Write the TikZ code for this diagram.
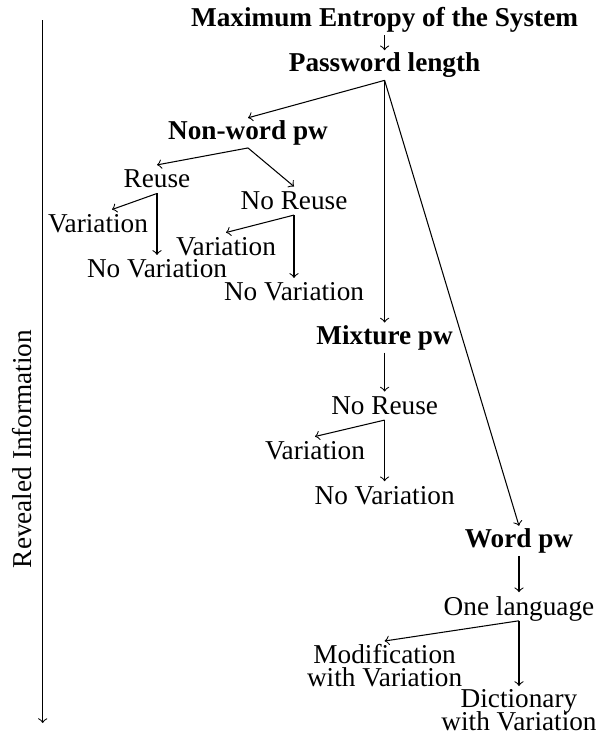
\documentclass[tikz,border=0pt]{standalone}
\usepackage{fontspec}
\setmainfont{Liberation Serif}
\usetikzlibrary{calc}
\begin{document}
\begin{tikzpicture}[x=0.3817pt, y=-0.3817pt, >=to,
  every node/.style={font=\fontsize{10.4pt}{12.5pt}\selectfont},
  bn/.style={font=\fontsize{10.4pt}{12.5pt}\selectfont\bfseries, anchor=base, inner sep=1pt, text height=7pt, text depth=2.1pt},
  rn/.style={anchor=base, inner sep=1pt, text height=7.5pt, text depth=1pt},
  mn/.style={align=center, anchor=north, inner sep=1pt, font=\fontsize{10.4pt}{9pt}\selectfont, execute at begin node={\lineskiplimit=-20pt}},
  conn/.style={->}
]
\useasboundingbox (0,0) rectangle (598,735);

% axis
\coordinate (axtop) at (42.7,20);
\coordinate (axbot) at (42.7,723);
\draw[conn] (axtop) -- (axbot);
\node[rotate=90, inner sep=0pt] (axlab) at (22.5,449) {Revealed Information};

% nodes
\node[bn] (max) at (384.6,26.7) {Maximum Entropy of the System};
\node[bn] (pl) at (384.6,71.7) {Password length};
\node[bn] (nw) at (248,139.3) {Non-word pw};
\node[rn] (reuse) at (157,187.7) {Reuse};
\node[rn] (nr1) at (294,209.3) {No Reuse};
\node[rn] (v1) at (98,232.3) {Variation};
\node[rn] (nv1) at (157,277.7) {No Variation};
\node[rn] (v2) at (226,255.3) {Variation};
\node[rn] (nv2) at (294,300.7) {No Variation};
\node[bn] (mix) at (384.6,344) {Mixture pw};
\node[rn] (nr2) at (384.6,414.3) {No Reuse};
\node[rn] (v3) at (315,459.3) {Variation};
\node[rn] (nv3) at (384.6,504) {No Variation};
\node[bn] (word) at (519,547.3) {Word pw};
\node[rn] (one) at (519,615) {One language};
\node[mn] (mod) at (384.6,641) {Modification\\with Variation};
\node[mn] (dict) at (519,686) {Dictionary\\with Variation};

% connectors
\draw[conn] (max.south) -- (pl.north);
\draw[conn] (pl.south) -- (nw.north);
\draw[conn] (pl.south) -- (mix.north);
\draw[conn] (pl.south) -- (word.north);
\draw[conn] (nw.south) -- (reuse.north);
\draw[conn] (nw.south) -- (nr1.north);
\draw[conn] (reuse.south) -- ($(v1.north)+(14,0)$);
\draw[conn] (reuse.south) -- (nv1.north);
\draw[conn] (nr1.south) -- (v2.north);
\draw[conn] (nr1.south) -- (nv2.north);
\draw[conn] (mix.south) -- (nr2.north);
\draw[conn] (nr2.south) -- (v3.north);
\draw[conn] (nr2.south) -- (nv3.north);
\draw[conn] (word.south) -- (one.north);
\draw[conn] (one.south) -- (mod.north);
\draw[conn] (one.south) -- (dict.north);
\end{tikzpicture}
\end{document}
